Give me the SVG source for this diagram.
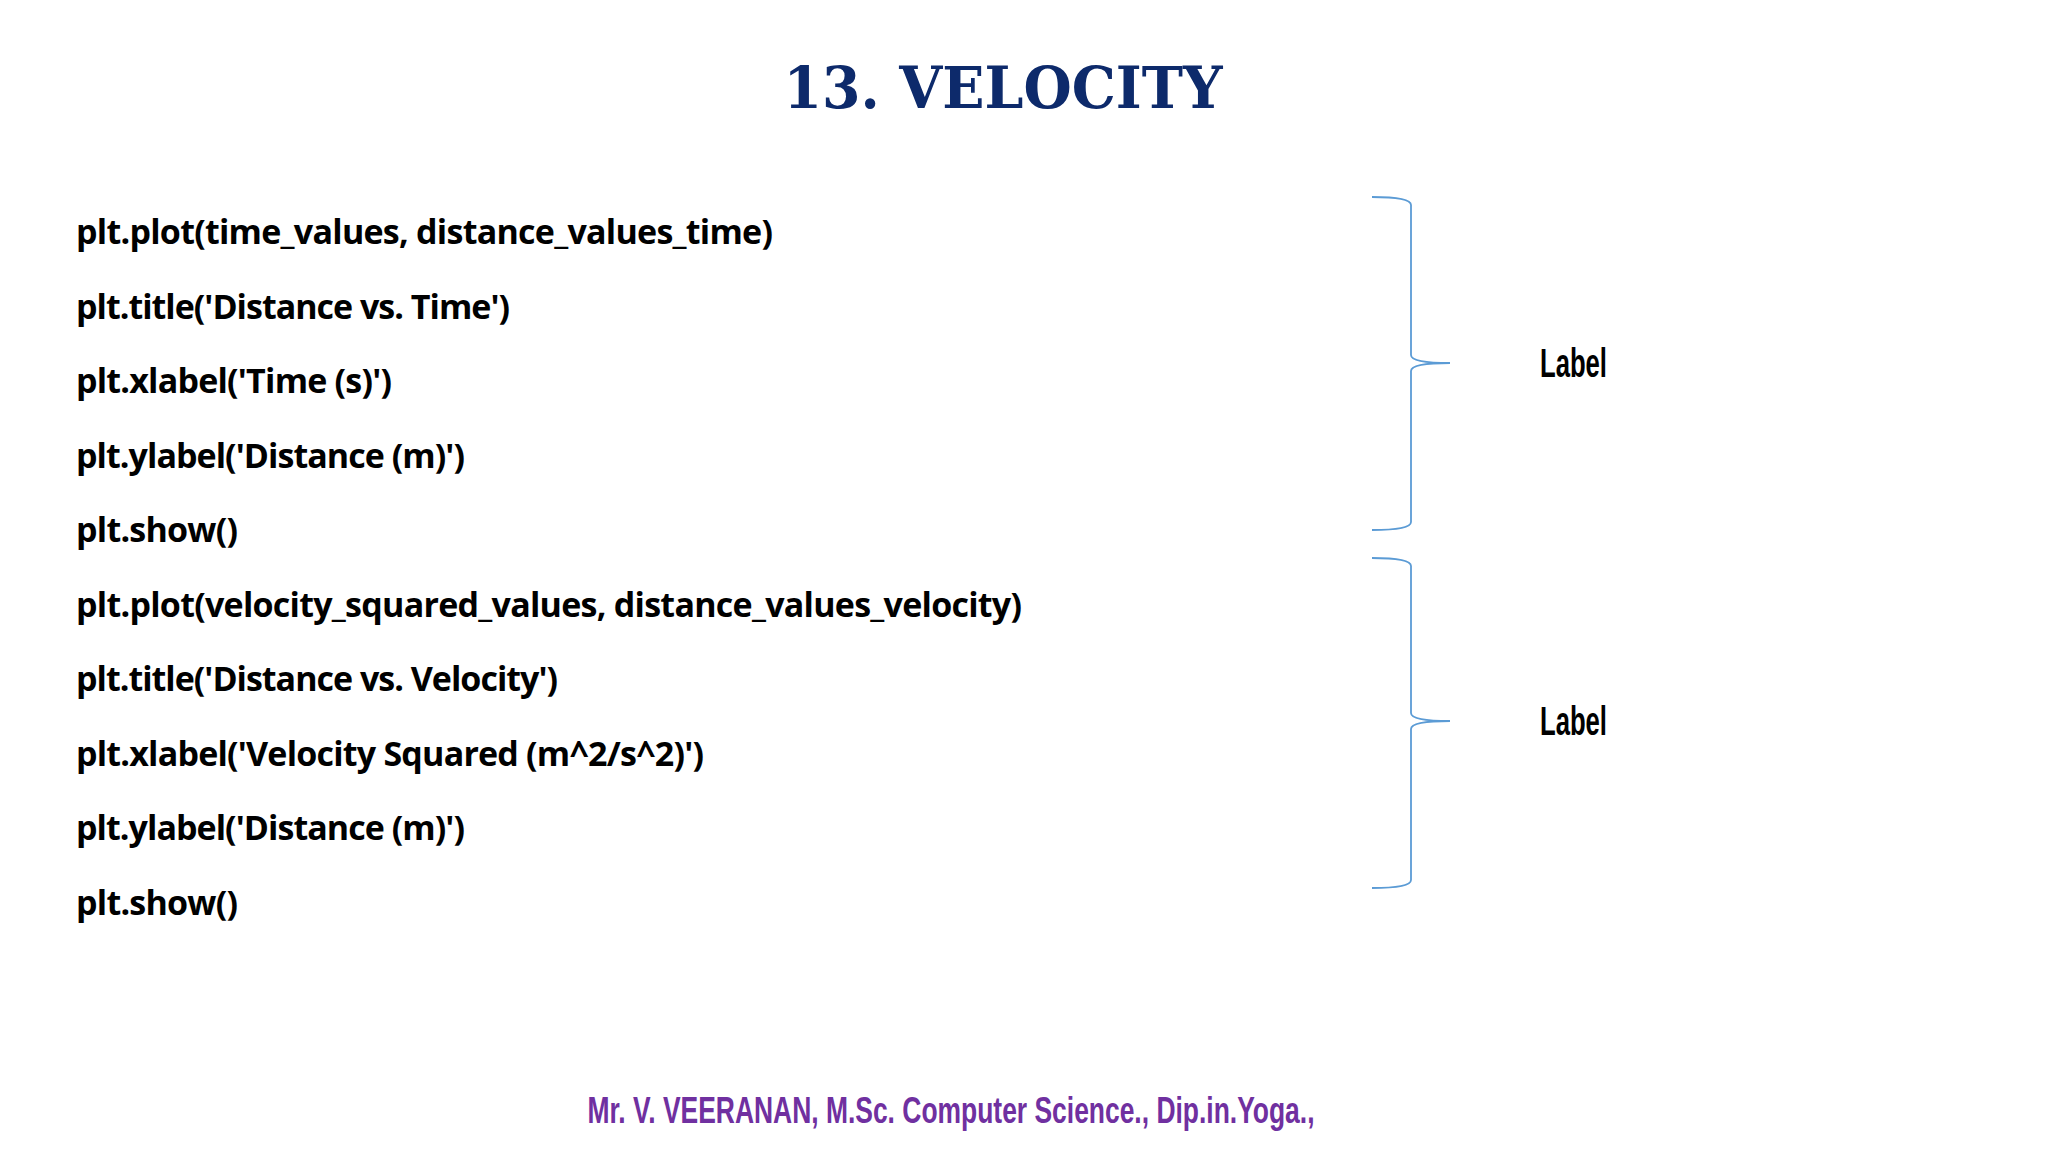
<svg xmlns="http://www.w3.org/2000/svg" width="2048" height="1152" viewBox="0 0 2048 1152">
<style>
.code{font-family:"Open Sans","Liberation Sans",sans-serif;font-weight:bold;font-size:34px;fill:#000}
.lbl{font-family:"Liberation Sans",sans-serif;font-weight:bold;font-size:40px;fill:#000}
.brace{fill:none;stroke:#5b9bd5;stroke-width:1.8}
</style>
<rect width="2048" height="1152" fill="#fff"/>
<text x="1003" y="108" text-anchor="middle" font-family="DejaVu Serif,serif" font-weight="bold" font-size="58" fill="#0d2a6b" textLength="439" lengthAdjust="spacingAndGlyphs">13. VELOCITY</text>
<g id="code">
<text class="code" x="76" y="244" textLength="697">plt.plot(time_values, distance_values_time)</text>
<text class="code" x="76" y="319" textLength="434">plt.title('Distance vs. Time')</text>
<text class="code" x="76" y="393" textLength="316">plt.xlabel('Time (s)')</text>
<text class="code" x="76" y="468" textLength="389">plt.ylabel('Distance (m)')</text>
<text class="code" x="76" y="542" textLength="162">plt.show()</text>
<text class="code" x="76" y="617" textLength="946">plt.plot(velocity_squared_values, distance_values_velocity)</text>
<text class="code" x="76" y="691" textLength="482">plt.title('Distance vs. Velocity')</text>
<text class="code" x="76" y="766" textLength="628">plt.xlabel('Velocity Squared (m^2/s^2)')</text>
<text class="code" x="76" y="840" textLength="389">plt.ylabel('Distance (m)')</text>
<text class="code" x="76" y="915" textLength="162">plt.show()</text>
</g>
<g id="connectors">
<path class="brace" d="M1372,197 Q1411,197 1411,205 L1411,355 Q1411,363 1450,363 Q1411,363 1411,371 L1411,522 Q1411,530 1372,530"/>
<path class="brace" d="M1372,558 Q1411,558 1411,566 L1411,713 Q1411,721 1450,721 Q1411,721 1411,729 L1411,880 Q1411,888 1372,888"/>
</g>
<g id="label1"><text class="lbl" x="1540" y="377" textLength="67" lengthAdjust="spacingAndGlyphs">Label</text></g>
<g id="label2"><text class="lbl" x="1540" y="735" textLength="67" lengthAdjust="spacingAndGlyphs">Label</text></g>
<text x="951" y="1123" text-anchor="middle" font-family="Liberation Sans,sans-serif" font-weight="bold" font-size="36" fill="#7030a0" textLength="727" lengthAdjust="spacingAndGlyphs">Mr. V. VEERANAN, M.Sc. Computer Science., Dip.in.Yoga.,</text>
</svg>
